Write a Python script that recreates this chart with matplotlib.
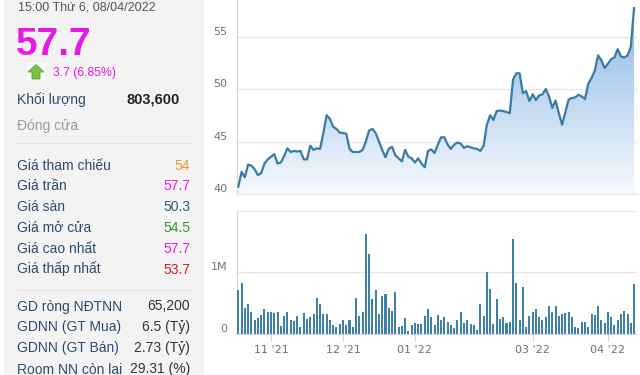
import numpy as np
import matplotlib
matplotlib.use('Agg')
import matplotlib.pyplot as plt
from matplotlib.patches import Rectangle, Polygon
from matplotlib.colors import LinearSegmentedColormap

plt.rcParams['font.family'] = ['Liberation Sans', 'DejaVu Sans']

# ---------------- data ----------------
price = [40.7, 42.1, 41.6, 42.8, 42.7, 42.35, 41.8, 42.0, 42.9, 43.3,
         43.55, 43.8, 42.9, 43.0, 43.6, 44.35, 44.0, 44.1, 44.05, 44.1,
         43.3, 43.3, 44.6, 44.2, 44.35, 44.3, 45.8, 47.5, 47.15, 46.4,
         46.2, 45.85, 45.8, 45.75, 44.3, 44.0, 44.0, 44.0, 44.2, 45.0,
         46.05, 46.2, 45.8, 45.0, 44.2, 43.5, 44.3, 44.5, 43.7, 43.4,
         43.1, 44.2, 43.55, 43.4, 43.0, 43.4, 42.9, 42.55, 44.1, 44.25,
         43.9, 44.7, 45.4, 45.4, 44.7, 44.3, 44.7, 44.9, 44.8, 44.4,
         44.55, 44.45, 44.35, 44.3, 44.1, 44.6, 46.6, 47.5, 47.05, 47.9,
         47.95, 47.9, 47.8, 47.7, 50.9, 51.5, 51.5, 49.6, 49.8, 48.85,
         49.5, 48.95, 49.4, 49.5, 50.0, 49.3, 48.2, 48.9, 47.7, 46.6,
         47.8, 49.0, 49.15, 49.2, 49.45, 49.3, 49.05, 50.5, 51.05, 51.75,
         53.2, 52.75, 52.0, 52.4, 52.85, 53.0, 53.8, 53.1, 53.0, 53.2,
         54.0, 57.7]

volume_m = [0.71, 0.83, 0.42, 0.49, 0.36, 0.23, 0.26, 0.31, 0.40, 0.35,
            0.35, 0.34, 0.36, 0.13, 0.30, 0.36, 0.22, 0.21, 0.30, 0.11,
            0.34, 0.24, 0.28, 0.33, 0.59, 0.48, 0.32, 0.33, 0.23, 0.15,
            0.12, 0.16, 0.23, 0.15, 0.22, 0.12, 0.58, 0.30, 0.36, 1.63,
            1.29, 0.56, 0.72, 0.32, 0.61, 0.65, 0.42, 0.38, 0.68, 0.11,
            0.13, 0.26, 0.05, 0.14, 0.18, 0.16, 0.16, 0.30,
            0.40, 0.28, 0.14, 0.31, 0.22, 0.28, 0.20, 0.15, 0.09, 0.23,
            0.36, 0.18, 0.22, 0.17, 0.15, 0.07, 0.48, 0.30, 1.00, 0.73,
            0.17, 0.57, 0.24, 0.28, 0.18, 0.20, 1.54, 0.82, 0.23, 0.77,
            0.12, 0.30, 0.36, 0.40, 0.28, 0.22, 0.27, 0.45, 0.36, 0.45,
            0.30, 0.32, 0.34, 0.36, 0.27, 0.12, 0.09, 0.20, 0.19, 0.12,
            0.33, 0.31, 0.45, 0.23, 0.18, 0.36, 0.28, 0.15, 0.23, 0.32,
            0.38, 0.32, 0.18, 0.8036]

month_tick_idx = [10, 32, 54, 90, 113]
month_tick_labels = ["11 '21", "12 '21", "01 '22", "03 '22", "04 '22"]
price_ticks = [40, 45, 50, 55]
price_tick_labels = ["40", "45", "50", "55"]
vol_ticks = [0, 1, 2]
vol_tick_labels = ["0", "1M", ""]

header_text = "15:00 Thứ 6, 08/04/2022"
last_price = "57.7"
change_text = "3.7 (6.85%)"
volume_label = "Khối lượng"
volume_text = "803,600"
status_text = "Đóng cửa"
info_labels = ["Giá tham chiếu", "Giá trần", "Giá sàn", "Giá mở cửa",
               "Giá cao nhất", "Giá thấp nhất"]
info_values = ["54", "57.7", "50.3", "54.5", "57.7", "53.7"]
foreign_labels = ["GD ròng NĐTNN", "GDNN (GT Mua)", "GDNN (GT Bán)",
                  "Room NN còn lại"]
foreign_values = ["65,200", "6.5 (Tỷ)", "2.73 (Tỷ)", "29.31 (%)"]

# ---------------- styles ----------------
MAGENTA = '#e619e6'
LABEL = '#2d4b6e'
info_colors = ['#f0962a', MAGENTA, '#3a5676', '#2f9a2f', MAGENTA, '#c81e28']
LINE = '#3b7ba3'
BAR = '#3f7fa8'
GRID = '#e6e6e6'
AXIS = '#d0d6e0'
TICKTXT = '#707070'
TICKFONT = ['DejaVu Sans']

W, H = 640, 375
fig = plt.figure(figsize=(W / 100, H / 100), dpi=100)

# ---------------- left info panel ----------------
pan = fig.add_axes([0, 0, 1, 1])
pan.set_xlim(0, W)
pan.set_ylim(H, 0)
pan.axis('off')
pan.add_patch(Rectangle((4, -5), 200, H + 10, facecolor='#f3f3f3', edgecolor='none'))

pan.text(18, 10, header_text, fontsize=9, color='#555555', va='baseline', ha='left')
pan.text(16, 55, last_price, fontsize=28, fontweight='bold', color=MAGENTA,
         va='baseline', ha='left')

# green up-arrow icon on white square
pan.add_patch(Rectangle((27, 63), 18, 17, facecolor='white', edgecolor='none'))
arrow = Polygon([(36, 64.5), (44, 72), (40, 72), (40, 79), (32, 79), (32, 72), (28, 72)],
                closed=True, facecolor='#7cc242', edgecolor='#5e9e2c', lw=0.6)
pan.add_patch(arrow)
pan.text(53, 76, change_text, fontsize=8.8, color=MAGENTA, va='baseline', ha='left')

pan.text(17, 104, volume_label, fontsize=10, color=LABEL, va='baseline', ha='left')
pan.text(180, 103, volume_text, fontsize=10.5, fontweight='bold', color='#222222',
         va='baseline', ha='right')
pan.text(17, 130, status_text, fontsize=10, color='#9a9a9a', va='baseline', ha='left')
pan.plot([17, 192], [143, 143], color='#e2e2e2', lw=0.8)

row0, step = 169.5, 20.8
for k, (lab, val, col) in enumerate(zip(info_labels, info_values, info_colors)):
    yb = row0 + k * step
    pan.text(17, yb, lab, fontsize=10, color=LABEL, va='baseline', ha='left')
    pan.text(190, yb, val, fontsize=10, color=col, va='baseline', ha='right')

pan.plot([17, 192], [290, 290], color='#e2e2e2', lw=0.8)
row1 = 310.5
for k, (lab, val) in enumerate(zip(foreign_labels, foreign_values)):
    yb = row1 + k * step
    pan.text(17, yb, lab, fontsize=10, color=LABEL, va='baseline', ha='left')
    pan.text(190, yb, val, fontsize=10, color='#333333', va='baseline', ha='right')

# ---------------- price chart ----------------
x = np.arange(len(price))
xmin, xmax = -0.4, len(price) - 0.1
ymin, ymax = 40, 58.48

ax = fig.add_axes([237 / W, 1 - 194 / H, 400 / W, 194 / H])
ax.set_facecolor('none')
ax.set_xlim(xmin, xmax)
ax.set_ylim(ymin, ymax)

verts = [(x[0], ymin)] + list(zip(x, price)) + [(x[-1], ymin)]
clip = Polygon(verts, closed=True, facecolor='none', edgecolor='none')
ax.add_patch(clip)
cmap = LinearSegmentedColormap.from_list('fill', ['#f7fafe', '#87b5e4'])
grad = np.linspace(0, 1, 256).reshape(-1, 1)
im = ax.imshow(grad, extent=[xmin, xmax, ymin, ymax], origin='lower', cmap=cmap,
               aspect='auto', zorder=1, interpolation='bilinear')
im.set_clip_path(clip)
ax.plot(x, price, color=LINE, lw=1.6, solid_joinstyle='round', zorder=3)

ax.set_yticks(price_ticks, price_tick_labels)
ax.set_xticks([])
ax.yaxis.grid(True, color=GRID, lw=1)
ax.set_axisbelow(True)
ax.tick_params(axis='y', length=0, pad=7, labelsize=8, labelcolor=TICKTXT)
for lbl in ax.get_yticklabels():
    lbl.set_verticalalignment('bottom')
    lbl.set_family(TICKFONT)
for s in ['top', 'right']:
    ax.spines[s].set_visible(False)
ax.spines['bottom'].set_color(GRID)
ax.spines['left'].set_color(AXIS)

# ---------------- volume chart ----------------
vax = fig.add_axes([237 / W, 41 / H, 400 / W, (334 - 210.7) / H])
vax.set_facecolor('none')
vax.set_xlim(xmin, xmax)
vax.set_ylim(0, 2)
vax.bar(x, volume_m, width=0.62, color=BAR, zorder=3)
vax.set_yticks(vol_ticks, vol_tick_labels)
vax.yaxis.grid(True, color=GRID, lw=1)
vax.set_axisbelow(True)
vax.tick_params(axis='y', length=0, pad=7, labelsize=8, labelcolor=TICKTXT)
for lbl in vax.get_yticklabels():
    lbl.set_verticalalignment('bottom')
    lbl.set_family(TICKFONT)
vax.set_xticks(month_tick_idx, month_tick_labels)
vax.tick_params(axis='x', length=6, color=AXIS, labelsize=8, labelcolor=TICKTXT, pad=2)
for lbl in vax.get_xticklabels():
    lbl.set_family(TICKFONT)
for s in ['top', 'right']:
    vax.spines[s].set_visible(False)
vax.spines['bottom'].set_color(AXIS)
vax.spines['left'].set_color(AXIS)

fig.savefig('out.png', dpi=100)
